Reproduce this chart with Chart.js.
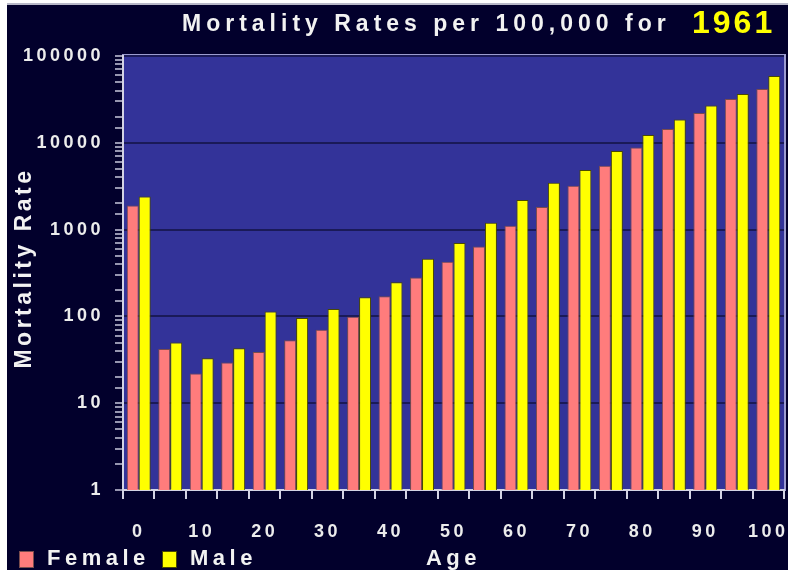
<!DOCTYPE html>
<html>
<head>
<meta charset="utf-8">
<title>Mortality Rates per 100,000 for 1961</title>
<script src="https://cdn.jsdelivr.net/npm/chart.js@4.4.1/dist/chart.umd.min.js"></script>
<style>
    html, body { margin: 0; padding: 0; background: #ffffff; }
    canvas { display: block; }
</style>
</head>
<body>
<canvas id="chart" width="788" height="570"></canvas>
<script>
const ages = ['0', '5', '10', '15', '20', '25', '30', '35', '40', '45', '50', '55', '60', '65', '70', '75', '80', '85', '90', '95', '100']
const female = [1900, 42, 22, 29.5, 39, 53, 70, 99, 171, 280, 425, 637, 1110, 1820, 3210, 5450, 8850, 14400, 22000, 31900, 41600]
const male = [2400, 50, 33, 43, 114, 96, 122, 166, 248, 460, 700, 1200, 2200, 3470, 4860, 8050, 12300, 18500, 26900, 36500, 58700]
const decadeTicks = [1, 10, 100, 1000, 10000, 100000]

const FONT = '"Liberation Sans", Arial, sans-serif'

const isDecade = (v) => decadeTicks.includes(v)

const backdrop = {
    id: 'backdrop',
    beforeDraw: (chart) => {
        const { ctx, chartArea: a } = chart
        ctx.save()
        ctx.fillStyle = '#ffffff'
        ctx.fillRect(0, 0, chart.width, chart.height)
        ctx.fillStyle = '#b8b8c8'
        ctx.fillRect(7, 3, chart.width - 7, 2)
        ctx.fillStyle = '#02002c'
        ctx.fillRect(7, 5, chart.width - 7, chart.height - 5)
        ctx.fillStyle = '#333399'
        ctx.fillRect(a.left, a.top, a.right - a.left, a.bottom - a.top)
        ctx.strokeStyle = '#9c9cd0'
        ctx.lineWidth = 2
        ctx.strokeRect(a.left, a.top - 1, a.right - a.left + 1, a.bottom - a.top + 1)
        ctx.restore()
        // spacing used by the tick labels
        ctx.letterSpacing = '3.5px'
    }
}

const texts = {
    id: 'texts',
    afterDraw: (chart) => {
        const { ctx, chartArea: a } = chart
        ctx.save()
        ctx.textBaseline = 'alphabetic'
        ctx.textAlign = 'left'

        // title, year in yellow
        ctx.fillStyle = '#f2f2f2'
        ctx.font = 'bold 23px ' + FONT
        ctx.letterSpacing = '5px'
        ctx.fillText('Mortality Rates per 100,000 for', 182, 31)
        ctx.fillStyle = '#ffff00'
        ctx.font = 'bold 32px ' + FONT
        ctx.letterSpacing = '3px'
        ctx.fillText('1961', 692, 33)

        // y axis title
        ctx.save()
        ctx.translate(31, 268)
        ctx.rotate(-Math.PI / 2)
        ctx.textAlign = 'center'
        ctx.fillStyle = '#f2f2f2'
        ctx.font = 'bold 23px ' + FONT
        ctx.letterSpacing = '3.5px'
        ctx.fillText('Mortality Rate', 0, 0)
        ctx.restore()

        // x axis title
        ctx.fillStyle = '#f2f2f2'
        ctx.font = 'bold 22px ' + FONT
        ctx.letterSpacing = '4.5px'
        ctx.textAlign = 'center'
        ctx.fillText('Age', (a.left + a.right) / 2, 565)

        // legend
        ctx.textAlign = 'left'
        const legendX = [19, 162]
        chart.data.datasets.forEach((ds, i) => {
            const x = legendX[i]
            ctx.fillStyle = ds.backgroundColor
            ctx.fillRect(x, 551, 15, 17)
            ctx.strokeStyle = ds.borderColor
            ctx.lineWidth = 1
            ctx.strokeRect(x + 0.5, 551.5, 14, 16)
            ctx.fillStyle = '#f2f2f2'
            ctx.fillText(ds.label, x + 28, 565)
        })
        ctx.restore()
    }
}

new Chart(document.getElementById('chart'), {
    type: 'bar',
    data: {
        labels: ages,
        datasets: [
            {
                label: 'Female',
                data: female,
                backgroundColor: '#ff7c7c',
                borderColor: '#7a4c4c',
                borderWidth: 1,
                categoryPercentage: 0.76,
                barPercentage: 1
            },
            {
                label: 'Male',
                data: male,
                backgroundColor: '#ffff00',
                borderColor: '#4a4a00',
                borderWidth: 1,
                categoryPercentage: 0.76,
                barPercentage: 1
            }
        ]
    },
    options: {
        responsive: false,
        animation: false,
        layout: {
            padding: { top: 56, right: 4, bottom: 0, left: 0 }
        },
        plugins: {
            legend: { display: false },
            title: { display: false },
            tooltip: { enabled: false }
        },
        scales: {
            x: {
                afterFit: (scale) => {
                    scale.height = 80
                    scale.paddingLeft = 0
                    scale.paddingRight = 0
                },
                border: { color: '#d4d4e4', width: 2 },
                grid: {
                    drawOnChartArea: false,
                    offset: true,
                    tickLength: 9,
                    tickColor: '#d4d4e4',
                    lineWidth: 2
                },
                ticks: {
                    autoSkip: false,
                    maxRotation: 0,
                    padding: 22,
                    color: '#ececec',
                    font: { family: FONT, size: 18, weight: 'bold' },
                    callback: (v, i) => i % 2 === 0 ? ages[i] : ''
                }
            },
            y: {
                type: 'logarithmic',
                min: 1,
                max: 100000,
                afterFit: (scale) => { scale.width = 123 },
                border: { color: '#d4d4e4', width: 2 },
                grid: {
                    color: (ctx) => ctx.tick && isDecade(ctx.tick.value) ? '#1a1a58' : 'rgba(0,0,0,0)',
                    lineWidth: 2,
                    tickLength: 8,
                    tickColor: '#c8c8dc',
                    tickWidth: 1.5
                },
                ticks: {
                    autoSkip: false,
                    padding: 11,
                    color: '#ececec',
                    font: { family: FONT, size: 18, weight: 'bold' },
                    callback: (v) => isDecade(v) ? String(v) : ''
                }
            }
        }
    },
    plugins: [backdrop, texts]
});
</script>
</body>
</html>
